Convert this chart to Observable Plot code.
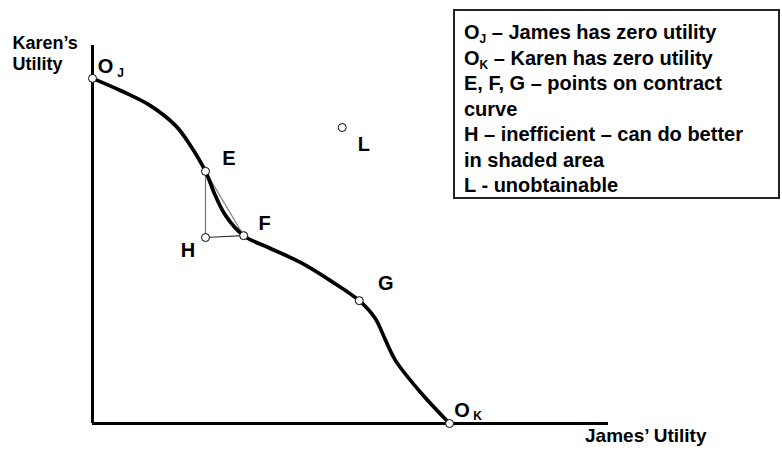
<!DOCTYPE html>
<html><head><meta charset="utf-8">
<script src="https://cdn.jsdelivr.net/npm/d3@7"></script>
<script src="https://cdn.jsdelivr.net/npm/@observablehq/plot@0.6"></script>
<style>
body{margin:0;background:#fff;font-family:"Liberation Sans",Arial,sans-serif;}
#wrap{position:relative;width:782px;height:450px;}
#legend{position:absolute;left:453px;top:9px;width:327px;height:190px;border:2px solid #222;background:#fff;
 font-weight:bold;font-size:20px;line-height:25.5px;padding:9px 0 0 9px;box-sizing:border-box;color:#000;white-space:nowrap;}
#legend sub{font-size:12px;vertical-align:-4px;line-height:0;}
</style></head>
<body><div id="wrap"><div id="chart"></div><div id="legend"></div></div>
<script>
// Utility possibility frontier (data units: 0..100 on both axes)
const curveX = [0, 5.4, 11.2, 16.1, 19.0, 21.9, 23.8, 25.8, 29.3, 34.5, 40.3, 46.1, 51.7, 54.8, 56.8, 58.7, 63.6, 69.2];
const curveY = [91.3, 88.1, 84.1, 78.8, 73.5, 66.7, 60.3, 55.0, 49.7, 46.3, 42.6, 37.8, 32.5, 27.8, 22.0, 16.7, 8.2, 0];
const pointNames = ["OJ", "E", "F", "H", "G", "OK", "L"];
const pointX = [0, 21.9, 29.3, 21.9, 51.7, 69.2, 48.4];
const pointY = [91.3, 66.7, 49.7, 49.2, 32.5, 0, 78.3];
const legendLines = [
  "O<sub>J</sub> – James has zero utility",
  "O<sub>K</sub> – Karen has zero utility",
  "E, F, G – points on contract",
  "curve",
  "H – inefficient – can do better",
  "in shaded area",
  "L - unobtainable"
];
const xLabel = "James’ Utility";
const yLabel = ["Karen’s", "Utility"];

const curve = curveX.map((x, i) => ({x, y: curveY[i]}));
const pts = pointNames.map((n, i) => ({n, x: pointX[i], y: pointY[i]}));
const P = Object.fromEntries(pts.map(p => [p.n, p]));
const simple = ["E","F","G","H","L"];
const off = {E:[23.5,-12.5], F:[21,-12.5], G:[26.5,-17.5], H:[-17.5,13.5], L:[21.5,17.5]};

const font = "Liberation Sans, Arial, sans-serif";
const chart = Plot.plot({
  width: 782, height: 450,
  marginLeft: 92, marginRight: 174, marginTop: 45, marginBottom: 27,
  x: {domain: [0, 100], axis: null},
  y: {domain: [0, 100], axis: null},
  style: {fontFamily: font, background: "white"},
  marks: [
    Plot.ruleX([0], {y1: 0, y2: 100, stroke: "black", strokeWidth: 3}),
    Plot.ruleY([0], {x1: 0, x2: 100, stroke: "black", strokeWidth: 3}),
    Plot.line([P.E, P.F], {x: "x", y: "y", stroke: "#888", strokeWidth: 1.2}),
    Plot.line([P.E, P.H], {x: "x", y: "y", stroke: "#777", strokeWidth: 1.2}),
    Plot.line([P.H, P.F], {x: "x", y: "y", stroke: "#333", strokeWidth: 1.2}),
    Plot.line(curve, {x: "x", y: "y", curve: "catmull-rom", stroke: "black", strokeWidth: 3.7}),
    Plot.dot(pts, {x: "x", y: "y", r: 4, stroke: "black", strokeWidth: 1, fill: "white"}),
    ...simple.map(n => Plot.text([P[n]], {x: "x", y: "y", text: d => d.n, dx: off[n][0], dy: off[n][1],
      fontSize: 20, fontWeight: "bold", fill: "black"})),
    Plot.text([P.OJ], {x: "x", y: "y", text: () => "O", dx: 13, dy: -12, fontSize: 20, fontWeight: "bold"}),
    Plot.text([P.OJ], {x: "x", y: "y", text: () => "J", dx: 28, dy: -5.5, fontSize: 12, fontWeight: "bold"}),
    Plot.text([P.OK], {x: "x", y: "y", text: () => "O", dx: 12.5, dy: -13, fontSize: 20, fontWeight: "bold"}),
    Plot.text([P.OK], {x: "x", y: "y", text: () => "K", dx: 28, dy: -7.5, fontSize: 12, fontWeight: "bold"}),
    Plot.text([xLabel], {frameAnchor: "bottom-right", text: d => d, dx: 98, dy: 18, textAnchor: "end", fontSize: 19, fontWeight: "bold"}),
    Plot.text([yLabel[0]], {frameAnchor: "top-left", text: d => d, dx: -80, dy: -9.5, textAnchor: "start", fontSize: 18, fontWeight: "bold"}),
    Plot.text([yLabel[1]], {frameAnchor: "top-left", text: d => d, dx: -80, dy: 11.5, textAnchor: "start", fontSize: 18, fontWeight: "bold"})
  ]
});
document.getElementById("chart").append(chart);
document.getElementById("legend").innerHTML = legendLines.map(l => `<div>${l}</div>`).join("");
</script></body></html>
